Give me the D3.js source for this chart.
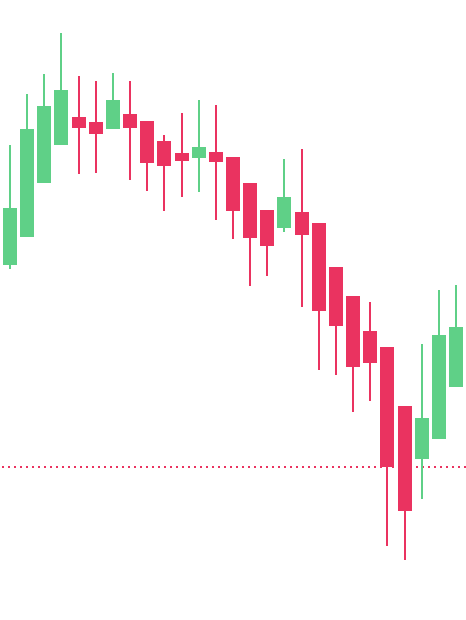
<!DOCTYPE html>
<html>
<head>
<meta charset="utf-8">
<script src="https://cdn.jsdelivr.net/npm/d3@7"></script>
<style>
  html, body { margin: 0; padding: 0; background: #ffffff; }
  svg { display: block; }
</style>
</head>
<body>
<svg id="chart" width="466" height="620"></svg>
<script>
const categories = d3.range(27);
const openVals  = [35.5, 38.3, 43.7, 47.5, 50.3, 49.8, 49.1, 50.6, 49.9, 47.9, 46.7, 46.2, 46.8, 46.3, 43.7, 41.0, 39.2, 40.8, 39.7, 35.3, 32.4, 28.9, 27.3, 21.4, 16.1, 18.1, 23.3];
const highVals  = [47.5, 52.6, 54.6, 58.7, 54.4, 53.9, 54.7, 53.9, 49.9, 48.5, 50.7, 52.0, 51.5, 46.3, 43.7, 41.0, 46.1, 47.1, 39.7, 35.3, 32.4, 31.8, 27.3, 21.4, 27.6, 33.0, 33.5];
const lowVals   = [35.1, 38.3, 43.7, 47.5, 44.6, 44.7, 49.1, 44.0, 42.9, 40.9, 42.3, 42.8, 40.0, 38.1, 33.4, 34.4, 38.8, 31.3, 25.0, 24.5, 20.8, 21.9, 7.4, 6.0, 12.1, 18.1, 23.3];
const closeVals = [41.2, 49.1, 51.4, 53.0, 49.2, 48.6, 52.0, 49.2, 45.7, 45.4, 45.9, 47.3, 45.8, 40.9, 38.2, 37.4, 42.3, 38.5, 30.9, 29.4, 25.3, 25.7, 15.3, 10.9, 20.2, 28.5, 29.3];
const refLevel = 15.3;

const upColor = "#5fd087";
const downColor = "#ea3360";

const W = 466, H = 620;
const svg = d3.select("#chart");

const x = d3.scaleBand().domain(categories).range([0, W]).paddingInner(0.184).paddingOuter(0.177);
const y = d3.scaleLinear().domain([0, 62]).range([H, 0]);

const data = categories.map((c, i) => ({
  c, o: openVals[i], h: highVals[i], l: lowVals[i], cl: closeVals[i]
}));

const bw = Math.round(x.bandwidth());

// reference dotted line
svg.append("line")
  .attr("x1", 0).attr("x2", W)
  .attr("y1", Math.round(y(refLevel))).attr("y2", Math.round(y(refLevel)))
  .attr("stroke", downColor)
  .attr("stroke-width", 2)
  .attr("stroke-dasharray", "2 4")
  .attr("stroke-dashoffset", 4);

const g = svg.append("g").attr("shape-rendering", "crispEdges");

const candle = g.selectAll("g.candle").data(data).join("g").attr("class", "candle");

candle.append("rect")
  .attr("x", d => Math.round(x(d.c) + x.bandwidth() / 2) - 1)
  .attr("width", 2)
  .attr("y", d => y(d.h))
  .attr("height", d => y(d.l) - y(d.h))
  .attr("fill", d => d.cl >= d.o ? upColor : downColor);

candle.append("rect")
  .attr("x", d => Math.round(x(d.c) + x.bandwidth() / 2) - bw / 2)
  .attr("width", bw)
  .attr("y", d => y(Math.max(d.o, d.cl)))
  .attr("height", d => Math.max(1, Math.abs(y(d.o) - y(d.cl))))
  .attr("fill", d => d.cl >= d.o ? upColor : downColor);
</script>
</body>
</html>
